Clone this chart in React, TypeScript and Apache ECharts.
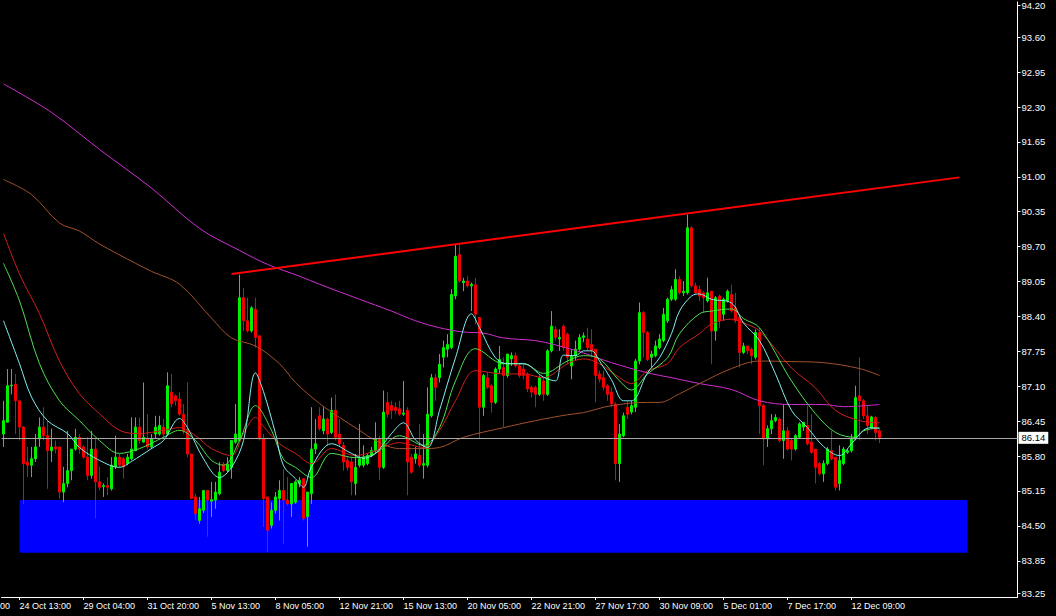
import React, { useEffect, useRef } from "react";
import * as echarts from "echarts";

// ---- Candles (H4), index 0 = first visible bar ----
const opens = [
  86.21, 86.43, 87.11, 87.14, 86.83, 86.34, 85.69, 85.63, 85.75, 86.12,
  86.34, 86.18, 85.90, 85.97, 85.97, 85.13, 85.29, 85.53, 85.93, 86.15,
  85.97, 85.78, 85.44, 85.93, 85.32, 85.23, 85.25, 85.19, 85.60, 85.78,
  85.75, 85.66, 85.75, 85.90, 86.34, 86.06, 86.12, 85.97, 86.21, 86.21,
  86.34, 86.21, 86.99, 86.92, 86.86, 86.58, 86.27, 85.84, 85.04, 84.60,
  84.79, 85.16, 84.96, 84.98, 85.10, 85.65, 85.53, 85.59, 86.06, 86.09,
  88.75, 88.32, 88.13, 88.53, 88.04, 86.12, 85.04, 84.51, 84.79, 85.01,
  85.16, 84.98, 84.91, 84.94, 85.29, 85.38, 84.67, 85.10, 85.93, 86.55,
  86.27, 86.49, 86.24, 86.65, 86.21, 86.00, 85.72, 85.69, 85.29, 85.63,
  85.63, 85.66, 85.81, 85.90, 86.12, 85.59, 86.80, 86.74, 86.71, 86.68,
  86.58, 86.65, 85.78, 85.75, 85.81, 85.63, 85.63, 86.55, 87.26, 87.26,
  87.64, 87.79, 87.82, 88.78, 89.55, 89.03, 89.06, 88.97, 88.99, 88.38,
  86.71, 87.26, 87.11, 86.80, 87.42, 87.45, 87.30, 87.61, 87.67, 87.48,
  87.42, 87.33, 87.08, 87.08, 86.95, 87.20, 86.95, 87.76, 88.16, 87.98,
  88.22, 88.07, 87.48, 87.67, 87.79, 88.01, 87.98, 87.88, 87.79, 87.33,
  87.26, 87.11, 86.99, 86.77, 85.66, 86.18, 86.71, 86.62, 86.71, 87.57,
  88.47, 88.10, 87.64, 87.67, 87.82, 87.95, 88.32, 88.72, 88.72, 89.09,
  88.84, 88.84, 90.05, 88.97, 88.90, 88.84, 88.69, 88.87, 88.13, 88.78,
  88.44, 88.69, 88.81, 88.56, 88.38, 87.73, 87.85, 87.79, 87.64, 88.10,
  86.74, 86.12, 86.31, 86.46, 86.49, 86.09, 86.27, 86.09, 85.93, 86.15,
  86.34, 86.37, 86.06, 85.93, 85.66, 85.47, 85.66, 85.90, 85.78, 85.29,
  85.66, 85.87, 85.90, 86.12, 86.92, 86.83, 86.55, 86.33, 86.52, 86.27,
];
const closes = [
  86.46, 87.11, 87.12, 86.83, 86.34, 85.66, 85.63, 85.75, 85.97, 86.34,
  86.18, 85.90, 85.97, 85.93, 85.13, 85.29, 85.53, 85.93, 86.15, 85.93,
  85.78, 85.44, 85.93, 85.32, 85.22, 85.25, 85.22, 85.63, 85.78, 85.63,
  85.60, 85.78, 85.93, 86.34, 86.09, 86.15, 85.97, 86.12, 86.34, 86.37,
  86.21, 87.11, 86.77, 86.83, 86.58, 86.27, 85.84, 85.01, 84.73, 84.82,
  85.16, 84.98, 84.99, 85.13, 85.50, 85.53, 85.65, 86.09, 86.21, 88.75,
  88.32, 88.13, 88.56, 88.01, 86.12, 85.01, 84.42, 84.79, 85.04, 85.16,
  84.98, 84.91, 85.29, 85.32, 85.35, 84.64, 85.13, 85.93, 86.03, 86.31,
  86.49, 86.21, 86.65, 86.15, 86.03, 85.69, 85.59, 85.32, 85.59, 85.75,
  85.78, 85.81, 85.90, 86.12, 85.59, 86.62, 86.58, 86.65, 86.65, 86.58,
  86.60, 85.69, 85.50, 85.84, 85.63, 85.66, 86.58, 87.26, 87.08, 87.51,
  87.82, 87.88, 88.81, 89.52, 89.06, 89.06, 88.97, 89.00, 88.44, 86.71,
  87.30, 87.08, 86.80, 87.42, 87.60, 87.30, 87.70, 87.67, 87.48, 87.30,
  87.30, 87.05, 86.99, 86.95, 87.26, 86.95, 87.76, 88.22, 88.01, 88.01,
  87.82, 87.64, 87.67, 87.79, 88.01, 88.04, 87.82, 87.76, 87.30, 87.23,
  87.08, 86.95, 86.77, 85.66, 86.21, 86.55, 86.58, 86.74, 87.57, 88.47,
  88.10, 87.60, 87.70, 87.85, 87.98, 88.44, 88.72, 88.90, 89.09, 88.84,
  88.87, 90.05, 88.97, 88.84, 88.78, 88.75, 88.84, 88.13, 88.75, 88.32,
  88.72, 88.87, 88.50, 88.32, 87.73, 87.85, 87.76, 87.67, 88.10, 86.74,
  86.12, 86.31, 86.46, 86.52, 86.09, 86.27, 85.93, 85.93, 86.18, 86.40,
  86.43, 86.03, 85.87, 85.59, 85.47, 85.66, 85.93, 85.75, 85.22, 85.72,
  85.93, 85.90, 86.12, 86.89, 86.83, 86.55, 86.37, 86.53, 86.24, 86.14,
];
const lows = [
  85.97, 86.43, 86.95, 86.21, 86.09, 84.91, 85.41, 85.41, 85.69, 85.97,
  86.09, 85.19, 85.69, 85.85, 85.01, 84.94, 85.22, 85.35, 85.90, 85.84,
  85.75, 85.35, 85.38, 84.64, 85.16, 85.04, 85.07, 85.16, 85.56, 85.59,
  85.38, 85.63, 85.72, 85.90, 86.03, 86.06, 85.93, 85.93, 86.12, 86.18,
  86.12, 86.18, 86.71, 86.74, 86.55, 86.21, 85.78, 85.01, 84.61, 84.54,
  84.74, 84.30, 84.67, 84.82, 85.07, 85.50, 85.50, 85.38, 86.03, 86.09,
  88.13, 88.10, 88.10, 87.82, 86.09, 84.48, 84.02, 84.45, 84.73, 84.60,
  84.17, 84.88, 84.67, 84.91, 85.22, 84.60, 84.11, 84.91, 85.84, 86.27,
  86.21, 86.00, 86.21, 86.09, 85.97, 85.53, 85.53, 85.07, 85.07, 85.59,
  85.59, 85.63, 85.78, 85.84, 85.35, 85.56, 86.52, 86.49, 86.58, 86.55,
  86.55, 85.07, 85.47, 85.66, 85.59, 85.38, 85.59, 86.52, 86.83, 87.17,
  87.45, 87.64, 87.79, 88.72, 89.03, 88.87, 88.94, 88.50, 88.25, 86.12,
  86.55, 87.05, 86.61, 86.77, 87.33, 86.34, 87.26, 87.48, 87.45, 87.26,
  87.23, 86.99, 86.89, 86.71, 86.92, 86.83, 86.92, 87.73, 87.95, 87.76,
  87.76, 87.51, 87.23, 87.58, 87.76, 87.92, 87.76, 87.64, 86.80, 87.17,
  87.02, 86.83, 86.71, 85.35, 85.32, 86.15, 86.49, 86.58, 86.62, 87.51,
  87.64, 87.57, 87.45, 87.64, 87.79, 87.92, 88.28, 88.69, 88.69, 88.81,
  88.78, 88.81, 88.94, 88.81, 88.69, 88.47, 88.66, 87.51, 87.95, 88.19,
  88.32, 88.66, 88.47, 88.28, 87.45, 87.70, 87.70, 87.51, 87.60, 86.21,
  85.63, 85.97, 86.21, 86.43, 86.06, 85.75, 85.90, 85.72, 85.90, 86.12,
  86.27, 86.00, 85.84, 85.29, 85.44, 85.32, 85.63, 85.72, 85.16, 85.16,
  85.63, 85.84, 85.87, 86.09, 86.09, 86.49, 86.21, 86.31, 86.09, 86.04,
];
const highs = [
  86.83, 87.42, 87.42, 87.33, 86.85, 86.36, 85.97, 85.97, 86.21, 86.52,
  86.71, 86.46, 86.31, 86.09, 85.97, 85.60, 86.27, 85.93, 86.31, 86.21,
  86.00, 86.15, 86.27, 86.12, 85.60, 85.29, 85.41, 85.78, 86.18, 85.84,
  85.78, 85.84, 86.52, 86.52, 86.52, 87.17, 86.58, 86.21, 86.55, 86.55,
  86.49, 87.36, 87.33, 86.95, 86.99, 86.77, 87.17, 85.84, 85.10, 85.04,
  85.16, 85.16, 85.32, 85.32, 85.69, 85.69, 85.78, 86.09, 86.77, 89.18,
  88.93, 88.75, 88.59, 88.75, 88.04, 86.21, 85.04, 84.94, 85.13, 85.35,
  85.56, 85.41, 85.29, 85.35, 85.41, 85.38, 85.13, 86.71, 86.49, 86.71,
  86.71, 86.52, 86.89, 86.95, 86.49, 86.06, 85.78, 85.78, 85.84, 86.40,
  86.00, 85.84, 85.97, 86.43, 86.18, 87.02, 86.99, 86.83, 86.80, 86.83,
  87.20, 86.71, 85.84, 85.97, 86.40, 86.21, 87.08, 87.33, 87.33, 87.70,
  87.95, 88.07, 88.91, 89.74, 89.74, 89.12, 89.15, 89.03, 89.12, 88.38,
  87.33, 87.36, 87.14, 87.45, 87.85, 87.64, 87.70, 87.73, 87.73, 87.51,
  87.51, 87.36, 87.11, 87.11, 87.30, 87.26, 87.79, 88.50, 88.22, 88.16,
  88.25, 88.10, 87.79, 87.95, 88.07, 88.10, 88.19, 88.16, 87.79, 87.39,
  87.39, 87.14, 87.08, 86.80, 86.40, 86.61, 86.83, 86.83, 87.61, 88.66,
  88.50, 88.13, 87.76, 87.95, 88.07, 88.56, 88.75, 88.97, 89.28, 89.15,
  89.06, 90.30, 90.08, 89.03, 88.97, 88.87, 89.12, 88.87, 88.78, 88.81,
  88.75, 88.90, 88.99, 88.84, 88.44, 87.91, 87.85, 87.82, 88.16, 88.19,
  86.77, 86.37, 86.58, 86.58, 86.52, 86.77, 86.34, 86.12, 86.21, 86.43,
  86.43, 86.74, 86.58, 85.93, 85.69, 85.72, 85.97, 86.27, 85.78, 86.00,
  85.97, 85.93, 86.21, 87.11, 87.64, 86.86, 86.74, 86.55, 86.55, 86.30,
];

// ---- Moving averages: [bar index, price] ----
const maCyan: [number, number][] = [
  [0, 88.32], [4, 87.52], [7, 86.9], [11, 86.46], [16, 86.22], [19, 85.96], [24, 85.72], [29, 85.59],
  [32, 85.7], [37, 85.94], [40, 86.09], [44, 86.5], [46, 86.33], [50, 85.75], [54, 85.4], [57, 85.59],
  [60, 86.09], [63, 87.35], [65, 87.0], [68, 86.22], [70, 85.62], [73, 85.38], [75, 85.22], [77, 85.6],
  [82, 86.03], [87, 85.85], [90, 85.76], [93, 85.85], [97, 86.22], [100, 86.42], [103, 86.1], [106, 85.96],
  [109, 86.65], [113, 87.63], [117, 88.45], [119, 88.19], [123, 87.63], [126, 87.52], [130, 87.52],
  [135, 87.27], [138, 87.2], [140, 87.68], [143, 87.67], [145, 87.76], [147, 87.76], [149, 87.57],
  [152, 87.22], [155, 86.83], [157, 86.83], [161, 87.35], [164, 87.63], [167, 88.08], [169, 88.5],
  [172, 88.78], [174, 88.82], [177, 88.72], [182, 88.65], [185, 88.28], [189, 87.95], [193, 87.33],
  [197, 86.65], [201, 86.33], [205, 85.98], [209, 85.81], [212, 86.03], [215, 86.28], [217, 86.33], [219, 86.31],
];
const maGreen: [number, number][] = [
  [0, 89.39], [4, 88.69], [9, 87.52], [14, 86.83], [19, 86.46], [24, 86.09], [29, 85.85], [34, 85.94],
  [40, 86.15], [44, 86.28], [48, 86.09], [52, 85.72], [55, 85.63], [59, 86.09], [63, 86.74], [67, 86.28],
  [70, 85.74], [73, 85.59], [77, 85.4], [82, 85.85], [88, 85.77], [93, 85.85], [99, 86.18], [105, 86.0],
  [109, 86.33], [113, 87.2], [118, 87.8], [125, 87.52], [130, 87.52], [135, 87.34], [141, 87.57],
  [145, 87.67], [149, 87.61], [154, 87.2], [157, 87.03], [161, 87.33], [166, 87.63], [169, 88.08],
  [174, 88.45], [177, 88.5], [182, 88.54], [185, 88.36], [189, 88.19], [197, 87.2], [203, 86.59],
  [208, 86.24], [213, 86.15], [215, 86.27], [219, 86.33],
];
const maRed: [number, number][] = [
  [0, 89.95], [4, 89.19], [9, 88.45], [14, 87.57], [19, 86.96], [24, 86.59], [29, 86.28], [34, 86.22],
  [40, 86.28], [44, 86.33], [48, 86.18], [52, 85.94], [57, 85.81], [60, 86.22], [63, 86.52], [65, 86.35],
  [69, 86.03], [73, 85.85], [77, 85.66], [82, 85.94], [88, 85.81], [93, 85.9], [99, 86.05], [105, 85.96],
  [109, 86.28], [113, 86.83], [118, 87.39], [125, 87.33], [130, 87.33], [135, 87.26], [141, 87.52],
  [145, 87.61], [149, 87.52], [154, 87.26], [157, 87.15], [161, 87.39], [166, 87.52], [169, 87.82],
  [174, 88.08], [177, 88.26], [182, 88.35], [185, 88.28], [189, 88.13], [197, 87.44], [203, 87.07],
  [208, 86.65], [214, 86.46], [219, 86.42],
];
const maBrown: [number, number][] = [
  [0, 90.95], [7, 90.67], [14, 90.14], [19, 89.99], [24, 89.75], [33, 89.39], [37, 89.24], [44, 89.0],
  [52, 88.37], [57, 88.0], [63, 87.85], [69, 87.52], [73, 87.17], [79, 86.78], [84, 86.52], [89, 86.28],
  [93, 86.09], [99, 85.94], [105, 85.94], [109, 85.96], [115, 86.15], [125, 86.33], [133, 86.46],
  [141, 86.57], [145, 86.61], [152, 86.74], [161, 86.8], [164, 86.8], [169, 86.96], [174, 87.15],
  [182, 87.43], [189, 87.57], [197, 87.56], [205, 87.54], [214, 87.43], [219, 87.3],
];
const maMagenta: [number, number][] = [
  [0, 92.73], [12, 92.2], [24, 91.51], [37, 90.79], [49, 90.04], [59, 89.63], [66, 89.37], [74, 89.15],
  [79, 89.0], [89, 88.72], [97, 88.5], [103, 88.32], [109, 88.19], [115, 88.11], [120, 88.09],
  [125, 88.0], [133, 87.95], [138, 87.87], [145, 87.72], [152, 87.54], [161, 87.35], [167, 87.26],
  [174, 87.15], [182, 87.04], [189, 86.83], [197, 86.76], [205, 86.76], [210, 86.72], [219, 86.76],
];

// ---- Annotations ----
const trendLine: [number, number][] = [[57, 89.19], [239, 90.99]];
const supportZone = { fromBar: 3.75, toBar: 241, top: 84.98, bottom: 84.0 };
const lastPrice = 86.14;

// ---- Axis labels ----
const timeLabels = [
  "24 Oct 13:00", "29 Oct 04:00", "31 Oct 20:00", "5 Nov 13:00", "8 Nov 05:00",
  "12 Nov 21:00", "15 Nov 13:00", "20 Nov 05:00", "22 Nov 21:00", "27 Nov 17:00",
  "30 Nov 09:00", "5 Dec 01:00", "7 Dec 17:00", "12 Dec 09:00",
];
const firstLabelBar = 4;
const barsPerLabel = 16;
const totalSlots = 254;
const priceTicks = [
  83.25, 83.85, 84.5, 85.15, 85.8, 86.45, 87.1, 87.75, 88.4, 89.05,
  89.7, 90.35, 91.0, 91.65, 92.3, 92.95, 93.6, 94.2,
];
const priceMin = 83.176;
const priceMax = 94.256;

const FONT = "'Liberation Sans', Arial, sans-serif";

export default function App() {
  const ref = useRef<HTMLDivElement>(null);
  useEffect(() => {
    if (!ref.current) return;
    const chart = echarts.init(ref.current, undefined, { renderer: "svg" });
    const slots = Array.from({ length: totalSlots }, (_, i) => String(i));
    const candles = opens.map((o, i) => [o, closes[i], lows[i], highs[i]]);
    const isLabel = (i: number) => i >= firstLabelBar && (i - firstLabelBar) % barsPerLabel === 0 && (i - firstLabelBar) / barsPerLabel < timeLabels.length;
    const maSeries = (data: [number, number][], color: string) => ({
      type: "line",
      data,
      showSymbol: false,
      symbol: "none",
      smooth: 0.35,
      lineStyle: { color, width: 1 },
      z: 4,
      silent: true,
    });
    chart.setOption({
      animation: false,
      backgroundColor: "#000000",
      grid: { left: 1.5, top: 0, width: 1016, height: 597 },
      xAxis: {
        type: "category",
        data: slots,
        boundaryGap: true,
        axisLine: { show: true, lineStyle: { color: "#ffffff", width: 1 } },
        axisTick: {
          show: true,
          alignWithLabel: true,
          interval: (i: number) => isLabel(i),
          length: 3,
          lineStyle: { color: "#ffffff" },
        },
        axisLabel: {
          interval: (i: number) => isLabel(i),
          formatter: (_v: string, i: number) => timeLabels[(i - firstLabelBar) / barsPerLabel] ?? "",
          color: "#ffffff",
          fontFamily: FONT,
          fontSize: 9,
          align: "left",
          margin: 4,
        },
        splitLine: { show: false },
      },
      yAxis: {
        type: "value",
        position: "right",
        min: priceMin,
        max: priceMax,
        axisLine: { show: true, lineStyle: { color: "#ffffff", width: 1 } },
        axisTick: { show: true, length: 3, customValues: priceTicks, lineStyle: { color: "#ffffff" } },
        axisLabel: {
          customValues: priceTicks,
          formatter: (v: number) => v.toFixed(2),
          color: "#ffffff",
          fontFamily: FONT,
          fontSize: 9.5,
          margin: 4,
        },
        splitLine: { show: false },
      },
      series: [
        {
          type: "line",
          data: [],
          z: 1,
          silent: true,
          markArea: {
            silent: true,
            itemStyle: { color: "#0000ff", opacity: 1 },
            data: [[
              { xAxis: supportZone.fromBar, yAxis: supportZone.top },
              { xAxis: supportZone.toBar, yAxis: supportZone.bottom },
            ]],
          },
        },
        {
          type: "candlestick",
          data: candles,
          barWidth: 2,
          z: 3,
          silent: true,
          itemStyle: {
            color: "#00f000",
            color0: "#f00000",
            borderColor: "#00f000",
            borderColor0: "#f00000",
            borderWidth: 1,
          },
          markLine: {
            silent: true,
            symbol: ["none", "none"],
            lineStyle: { color: "#a8a8a8", width: 1, type: "solid" },
            label: {
              show: true,
              position: "end",
              distance: 1,
              formatter: lastPrice.toFixed(2),
              backgroundColor: "#ffffff",
              color: "#000000",
              fontFamily: FONT,
              fontSize: 9.5,
              padding: [1, 3, 1, 3],
            },
            data: [{ yAxis: lastPrice }],
          },
        },
        maSeries(maMagenta, "#d030d0"),
        maSeries(maBrown, "#a0522d"),
        maSeries(maRed, "#d02020"),
        maSeries(maGreen, "#50e050"),
        maSeries(maCyan, "#80f0f0"),
        {
          type: "line",
          data: trendLine,
          showSymbol: false,
          symbol: "none",
          lineStyle: { color: "#ff0000", width: 2 },
          z: 5,
          silent: true,
        },
      ],
      graphic: [
        {
          type: "text",
          left: 0,
          top: 601,
          style: { text: "00", fill: "#ffffff", font: `9px ${FONT}` },
        },
      ],
    });
    return () => chart.dispose();
  }, []);
  return (
    <div
      ref={ref}
      style={{ position: "fixed", left: 0, top: 0, width: 1056, height: 616, background: "#000" }}
    />
  );
}
